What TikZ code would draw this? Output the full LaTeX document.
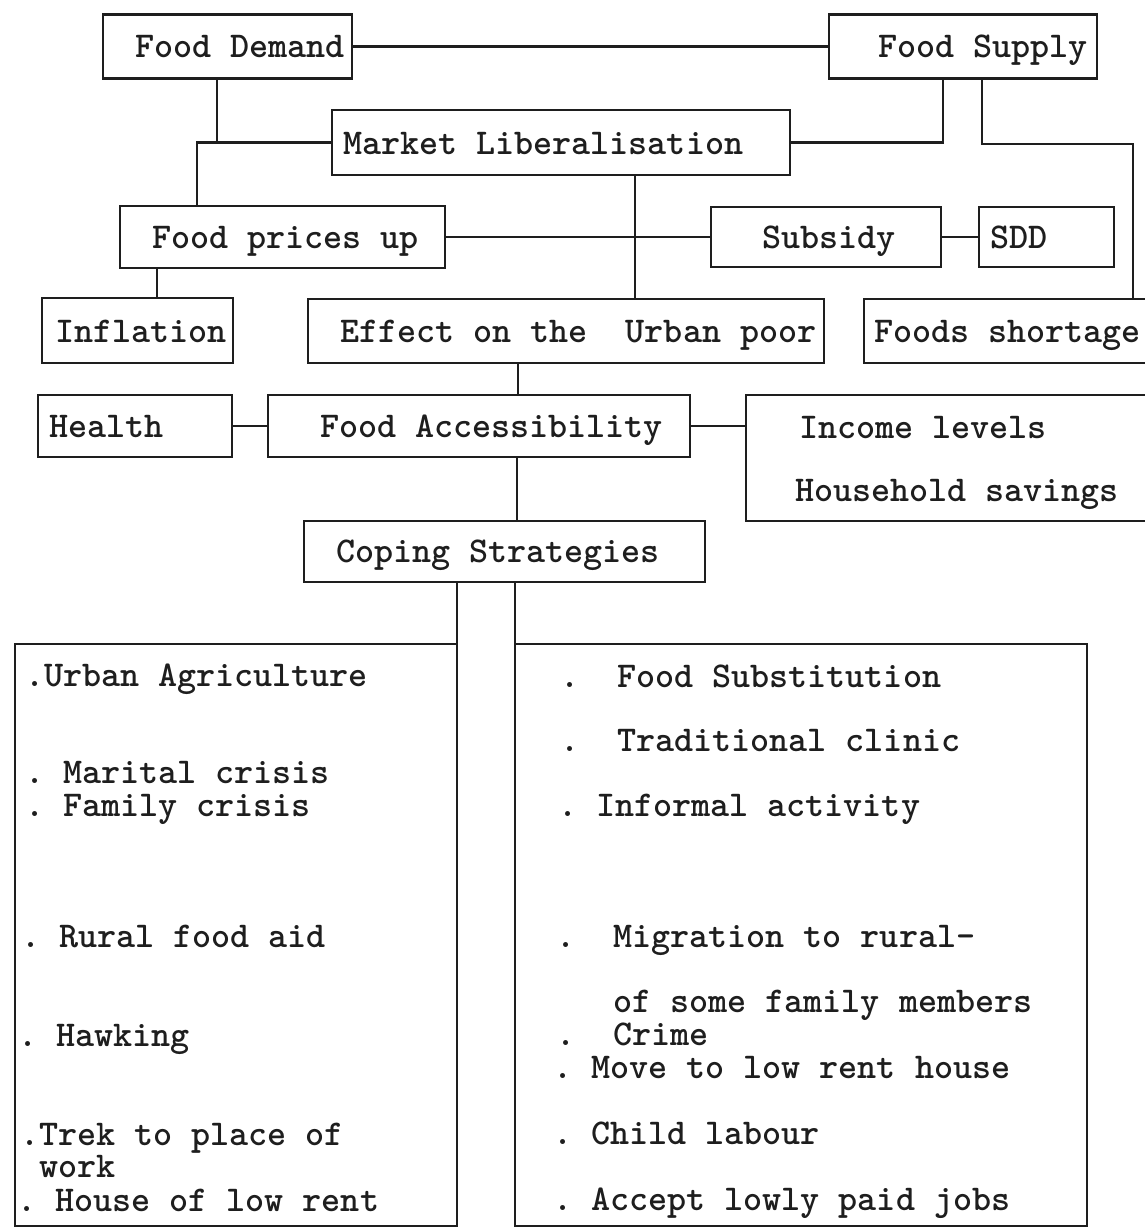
\documentclass[tikz,border=0pt]{standalone}
\begin{document}
\begin{tikzpicture}[x=1pt,y=-1pt]
\definecolor{ink}{HTML}{1E1E1E}
\tikzset{
  box/.style={draw=ink, line width=2.4pt, rectangle, inner sep=0pt, outer sep=0pt},
  link/.style={draw=ink, line width=2.2pt},
  txt/.style={anchor=base west, inner sep=0pt, outer sep=0pt, text=ink,
              font=\ttfamily\bfseries\fontsize{36.3}{40}\selectfont\frenchspacing}
}
\useasboundingbox (0,0) rectangle (1145,1228);
\fill[white] (0,0) rectangle (1145,1228);
\clip (0,0) rectangle (1145,1228);

% boxes
\node[box, minimum width=249, minimum height=64] (fd)  at (227.5,46.5) {};
\node[box, minimum width=268, minimum height=64] (fs)  at (963,46.5) {};
\node[box, minimum width=458, minimum height=65] (ml)  at (561,142.5) {};
\node[box, minimum width=325, minimum height=62] (fpu) at (282.5,237) {};
\node[box, minimum width=230, minimum height=60] (sub) at (826,237) {};
\node[box, minimum width=135, minimum height=60] (sdd) at (1046.5,237) {};
\node[box, minimum width=191, minimum height=65] (inf) at (137.5,330.5) {};
\node[box, minimum width=516, minimum height=64] (eff) at (566,331) {};
\node[box, minimum width=296, minimum height=64] (fsh) at (1012,331) {};
\node[box, minimum width=194, minimum height=62] (hea) at (135,426) {};
\node[box, minimum width=422, minimum height=62] (fa)  at (479,426) {};
\node[box, minimum width=414, minimum height=126] (inc) at (953,458) {};
\node[box, minimum width=401, minimum height=61] (cs)  at (504.5,551.5) {};
\node[box, minimum width=442, minimum height=582] (lb) at (236,935) {};
\node[box, minimum width=572, minimum height=582] (rb) at (801,935) {};

% box texts
\node[txt] (tfd)  at (135,57.5)  {Food Demand};
\node[txt] (tfs)  at (878,57.5)  {Food Supply};
\node[txt] (tml)  at (343,154)   {Market Liberalisation};
\node[txt] (tfpu) at (152,248)   {Food prices up};
\node[txt] (tsub) at (762,248)   {Subsidy};
\node[txt] (tsdd) at (990,248)   {SDD};
\node[txt] (tinf) at (55,342)    {Inflation};
\node[txt] (teff) at (340,342)   {Effect on the~~Urban poor};
\node[txt] (tfsh) at (874,342)   {Foods shortage};
\node[txt] (thea) at (49,437)    {Health};
\node[txt] (tfa)  at (320,437)   {Food Accessibility};
\node[txt] (tinc) at (799,438)   {Income levels};
\node[txt] (thh)  at (795,501)   {Household savings};
\node[txt] (tcs)  at (336,562)   {Coping Strategies};

% left list
\node[txt] (l1) at (25,686)  {.Urban Agriculture};
\node[txt] (l2) at (25,783)  {.~Marital crisis};
\node[txt] (l3) at (25,816)  {.~Family crisis};
\node[txt] (l4) at (21,947)  {.~Rural food aid};
\node[txt] (l5) at (18,1046) {.~Hawking};
\node[txt] (l6) at (20,1145) {.Trek to place of};
\node[txt] (l7) at (20,1177) {~work};
\node[txt] (l8) at (17,1211) {.~House of low rent};

% right list
\node[txt] (r1) at (560,687)  {.~~Food Substitution};
\node[txt] (r2) at (560,751)  {.~~Traditional clinic};
\node[txt] (r3) at (558,816)  {.~Informal activity};
\node[txt] (r4) at (556,947)  {.~~Migration to rural-};
\node[txt] (r5) at (556,1012) {~~~of some family members};
\node[txt] (r6) at (556,1045) {.~~Crime};
\node[txt] (r7) at (553,1078) {.~Move to low rent house};
\node[txt] (r8) at (553,1144) {.~Child labour};
\node[txt] (r9) at (553,1210) {.~Accept lowly paid jobs};

% connectors
\draw[link] (fd.east) -- (fs.west);
\draw[link] (217,0 |- fd.south) |- (ml.west);
\draw[link] (197,0 |- fpu.north) |- (ml.west);
\draw[link] (943,0 |- fs.south) |- (ml.east);
\draw[link] (982,0 |- fs.south) -- (982,144) -| (1133,0 |- fsh.north);
\draw[link] (635,0 |- ml.south) -- (635,0 |- eff.north);
\draw[link] (fpu.east) -- (sub.west);
\draw[link] (sub.east) -- (sdd.west);
\draw[link] (157,0 |- fpu.south) -- (157,0 |- inf.north);
\draw[link] (518,0 |- eff.south) -- (518,0 |- fa.north);
\draw[link] (hea.east) -- (fa.west);
\draw[link] (fa.east) -- (fa.east -| inc.west);
\draw[link] (517,0 |- fa.south) -- (517,0 |- cs.north);
\draw[link] (lb.north east |- cs.south) -- (lb.north east);
\draw[link] (rb.north west |- cs.south) -- (rb.north west);
\end{tikzpicture}
\end{document}
